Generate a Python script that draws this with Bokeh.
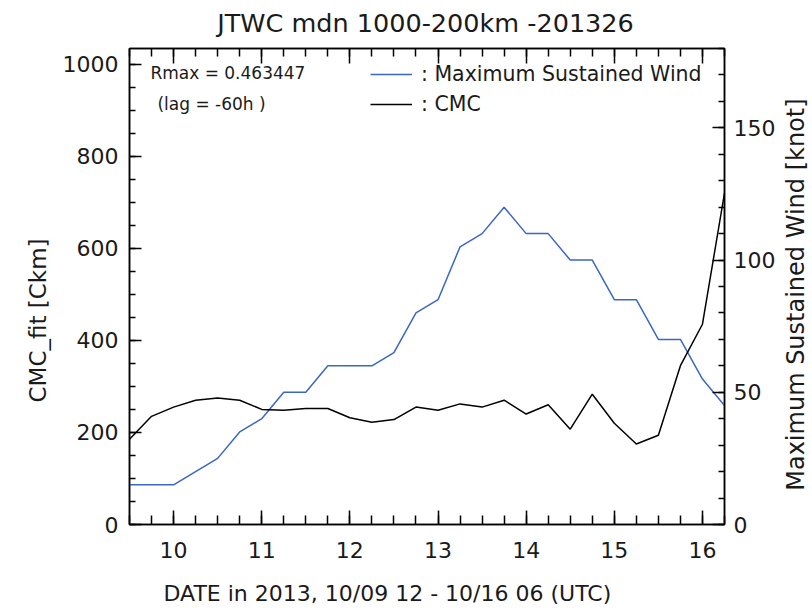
import math
from bokeh.plotting import figure
from bokeh.layouts import column, row
from bokeh.models import (Range1d, LinearAxis, SingleIntervalTicker, FixedTicker,
                          Label, Legend, LegendItem, Title)
from bokeh.embed import file_html
from bokeh.resources import INLINE

# ---- data ----
dates = [9.5, 9.75, 10.0, 10.25, 10.5, 10.75, 11.0, 11.25, 11.5, 11.75,
         12.0, 12.25, 12.5, 12.75, 13.0, 13.25, 13.5, 13.75, 14.0, 14.25,
         14.5, 14.75, 15.0, 15.25, 15.5, 15.75, 16.0, 16.25]
wind_kt = [15, 15, 15, 20, 25, 35, 40, 50, 50, 60,
           60, 60, 65, 80, 85, 105, 110, 120, 110, 110,
           100, 100, 85, 85, 70, 70, 55, 45]
cmc_ckm = [185, 235, 255, 270, 275, 270, 250, 248, 252, 252,
           232, 222, 228, 255, 248, 262, 255, 270, 240, 260,
           207, 283, 220, 175, 194, 345, 435, 720]
day_ticks = [10, 11, 12, 13, 14, 15, 16]
day_labels = ["10", "11", "12", "13", "14", "15", "16"]

title_text = "JTWC mdn 1000-200km -201326"
xlabel = "DATE in 2013, 10/09 12 - 10/16 06 (UTC)"
ylabel_left = "CMC_fit [Ckm]"
ylabel_right = "Maximum Sustained Wind [knot]"
rmax_text = "Rmax = 0.463447"
lag_text = "(lag = -60h )"
legend_wind = ": Maximum Sustained Wind"
legend_cmc = ": CMC"

FONT = "DejaVu Sans"
TXT = "#1a1a1a"
BLUE = "#3a66c4"

# layout sizes (pixels)
TOTAL_W = 812
TOP_H = 40
MAIN_W, MAIN_H = 778, 530
BOTTOM_H = 40
RIGHT_W = TOTAL_W - MAIN_W

p = figure(width=MAIN_W, height=MAIN_H, output_backend="svg", toolbar_location=None,
           title=None, x_range=Range1d(9.5, 16.25), y_range=Range1d(0, 1034),
           min_border_left=129, min_border_right=52,
           min_border_top=8, min_border_bottom=46)
p.grid.visible = False
p.outline_line_color = "black"
p.outline_line_width = 1.5
p.background_fill_color = "white"
p.border_fill_color = "white"

p.extra_y_ranges = {"wind": Range1d(0, 180)}


def style_axis(ax, maj_in, min_in, size="22px"):
    ax.major_tick_in = maj_in
    ax.major_tick_out = 0
    ax.minor_tick_in = min_in
    ax.minor_tick_out = 0
    ax.major_tick_line_color = "black"
    ax.minor_tick_line_color = "black"
    ax.major_tick_line_width = 1.5
    ax.minor_tick_line_width = 1.5
    ax.axis_line_color = "black"
    ax.axis_line_width = 1.5
    ax.major_label_text_font = FONT
    ax.major_label_text_font_size = size
    ax.major_label_text_color = TXT


# left axis
ya = p.yaxis[0]
ya.ticker = SingleIntervalTicker(interval=200, num_minor_ticks=4)
style_axis(ya, 12, 6)
ya.major_label_standoff = 11

# right axis
ra = LinearAxis(y_range_name="wind",
                ticker=SingleIntervalTicker(interval=50, num_minor_ticks=5))
style_axis(ra, 12, 6)
ra.major_label_standoff = 9
p.add_layout(ra, "right")

# bottom axis
xa = p.xaxis[0]
xa.ticker = FixedTicker(ticks=day_ticks, minor_ticks=dates)
xa.major_label_overrides = {t: s for t, s in zip(day_ticks, day_labels)}
style_axis(xa, 14, 9)
xa.major_label_standoff = 17

# top axis (ticks only)
ta = LinearAxis(ticker=FixedTicker(ticks=day_ticks, minor_ticks=dates))
style_axis(ta, 15, 8, size="0px")
ta.major_label_overrides = {t: "" for t in day_ticks}
ta.major_label_standoff = 0
p.add_layout(ta, "above")

# left axis title (placed off-centre like the reference)
p.add_layout(Title(text=ylabel_left, align="left", offset=122, standoff=18,
                   text_font=FONT, text_font_size="23px", text_font_style="normal",
                   text_color=TXT), "left")

# lines
r_w = p.line(dates, wind_kt, y_range_name="wind", line_color=BLUE, line_width=1.5)
r_c = p.line(dates, cmc_ckm, line_color="black", line_width=1.5)

legend = Legend(items=[LegendItem(label=legend_wind, renderers=[r_w]),
                       LegendItem(label=legend_cmc, renderers=[r_c])],
                location=(241, 408), glyph_width=42, glyph_height=20,
                label_height=20, spacing=6, padding=0, margin=0,
                border_line_color=None, background_fill_alpha=0,
                label_standoff=9, label_text_font=FONT,
                label_text_font_size="20.5px", label_text_color=TXT)
p.add_layout(legend)

p.add_layout(Label(x=9.737, y=980, text=rmax_text, text_baseline="middle",
                   text_font=FONT, text_font_size="17px", text_color=TXT))
p.add_layout(Label(x=9.817, y=914, text=lag_text, text_baseline="middle",
                   text_font=FONT, text_font_size="17px", text_color=TXT))


def text_panel(w, h, x, y, text, size, align="left", angle=0.0):
    f = figure(width=w, height=h, output_backend="svg", toolbar_location=None,
               title=None, x_range=Range1d(0, w), y_range=Range1d(0, h),
               min_border=0, x_axis_location=None, y_axis_location=None)
    f.grid.visible = False
    f.xgrid.visible = False
    f.ygrid.visible = False
    f.outline_line_color = None
    f.background_fill_color = "white"
    f.border_fill_color = "white"
    f.add_layout(Label(x=x, y=y, text=text, text_align=align, text_baseline="middle",
                       angle=angle, text_font=FONT, text_font_size=size,
                       text_color=TXT))
    return f


p_top = text_panel(TOTAL_W, TOP_H, 425, TOP_H - 22, title_text, "25.5px",
                   align="center")
p_right = text_panel(RIGHT_W, MAIN_H, RIGHT_W / 2, TOP_H + MAIN_H - 314,
                     ylabel_right, "24px", align="center", angle=math.pi / 2)
p_bottom = text_panel(TOTAL_W, BOTTOM_H, 163, TOP_H + MAIN_H + BOTTOM_H - 593,
                      xlabel, "22px")

layout = column(p_top, row(p, p_right), p_bottom)

open("out.html", "w").write(file_html(layout, INLINE))
